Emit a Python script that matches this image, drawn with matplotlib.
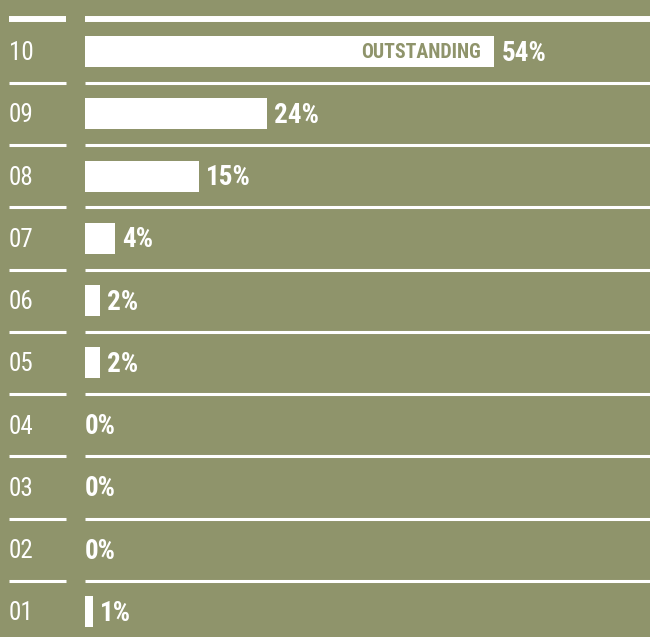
import matplotlib
matplotlib.use("Agg")
import matplotlib.pyplot as plt

ratings = ["10", "09", "08", "07", "06", "05", "04", "03", "02", "01"]
percents = [54, 24, 15, 4, 2, 2, 0, 0, 0, 1]
top_label = "OUTSTANDING"

BG = "#8F946B"
W = 650
H = 637
plt.rcParams["font.family"] = ["Roboto Condensed", "DejaVu Sans"]

fig = plt.figure(figsize=(W / 100, H / 100), dpi=100, facecolor=BG)
ax = fig.add_axes([0, 0, 1, 1])
ax.set_facecolor(BG)
for s in ax.spines.values():
    s.set_visible(False)
ax.set_xticks([])
ax.set_yticks([])

px_per_pct = 7.58
x0 = 85
pitch = 62.25
c0 = 51.5
ax.set_xlim(-x0 / px_per_pct, (W - x0) / px_per_pct)
ax.set_ylim((H - c0) / pitch, -c0 / pitch)

ys = list(range(len(ratings)))
ax.barh(ys, percents, height=31 / pitch, left=0, color="white", linewidth=0)

tr = ax.get_yaxis_transform()
for i, (r, p) in enumerate(zip(ratings, percents)):
    yl = i - 31 / pitch
    lw = 4.3 if i == 0 else 2.2
    yline = yl - (1.5 / pitch if i == 0 else 0)
    ax.plot([9 / W, 66 / W], [yline, yline], transform=tr, color="white", lw=lw,
            solid_capstyle="butt", clip_on=False)
    ax.plot([x0 / W, 1], [yline, yline], transform=tr, color="white", lw=lw,
            solid_capstyle="butt", clip_on=False)
    ax.annotate(r, xy=(9 / W, i), xycoords=tr, xytext=(0, -1.2),
                textcoords="offset points", color="white", fontsize=18,
                ha="left", va="center")
    off = 5.0 if p > 0 else 0
    ax.annotate(f"{p}%", xy=(p, i), xytext=(off, -1.2), textcoords="offset points",
                color="white", fontsize=19.5, fontweight="bold",
                ha="left", va="center")

ax.annotate(top_label, xy=(percents[0], 0), xytext=(-9.5, -0.8),
            textcoords="offset points", color=BG, fontsize=14.3,
            fontweight="bold", ha="right", va="center")

fig.savefig("out.png", dpi=100, facecolor=BG)
